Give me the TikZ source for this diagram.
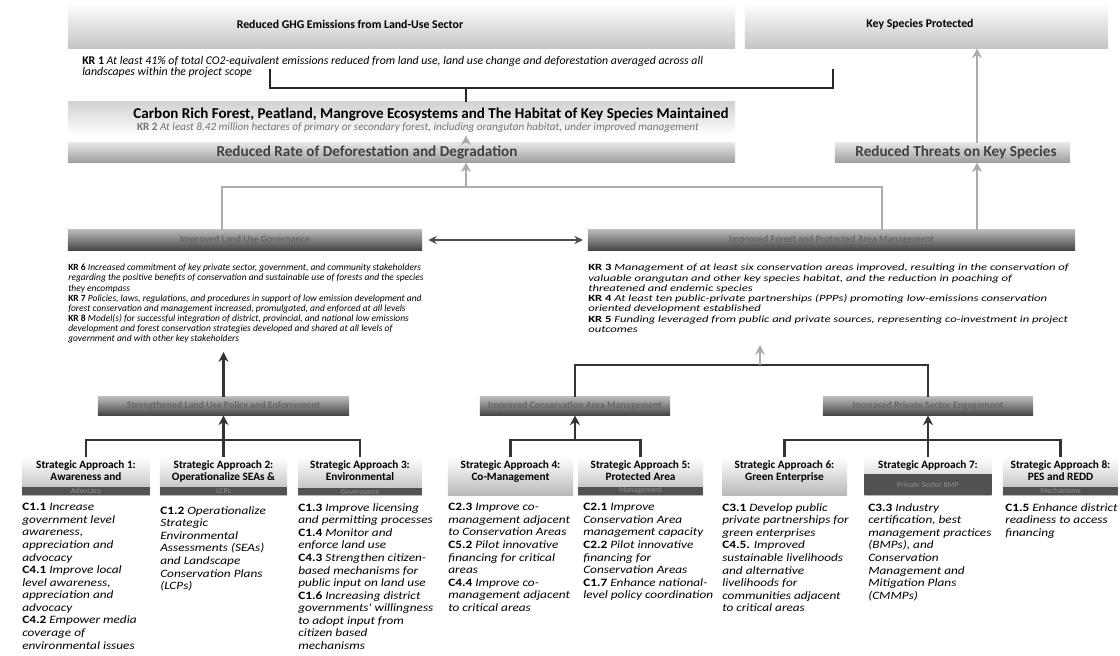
\documentclass[tikz,border=0pt]{standalone}
\usepackage{fontspec}
\setmainfont{Carlito}
\newfontfamily\castretch[FakeStretch=1.18]{Carlito}
\newfontfamily\krwide[FakeStretch=1.33]{Carlito}
\usepackage{tikz}
\usetikzlibrary{arrows.meta}

\newcommand{\krlab}[1]{{\upshape\bfseries KR #1}}
\newcommand{\clab}[1]{{\upshape\bfseries #1}}

\begin{document}
\begin{tikzpicture}[x=0.025cm, y=-0.025cm,
	topbox/.style={rectangle, inner sep=0pt, top color=white, bottom color=gray!45},
	toptitle/.style={inner sep=0pt, font=\bfseries\fontsize{8.4}{9.5}\selectfont},
	softbar/.style={rectangle, inner sep=0pt, top color=gray!20, bottom color=gray!75},
	softtitle/.style={inner sep=0pt, text=black!75, font=\bfseries\fontsize{10.8}{12}\selectfont},
	darkbar/.style={rectangle, inner sep=0pt, top color=gray!55, bottom color=black!72, text=black!60, font=\bfseries\fontsize{7}{8}\selectfont},
	sabox/.style={rectangle, inner sep=0pt, align=center, top color=white, bottom color=gray!55, minimum height=0.95cm, text depth=7.6pt, font=\bfseries\fontsize{8}{8.5}\selectfont},
	saband/.style={rectangle, inner sep=0pt, anchor=south, fill=black!68, text=black!50, font=\bfseries\fontsize{5.5}{6}\selectfont},
	krtext/.style={anchor=north west, inner sep=0pt, align=left, font=\itshape\fontsize{6.75}{7.2}\selectfont},
	catext/.style={anchor=north west, inner sep=0pt, align=left, font=\castretch\itshape\fontsize{8}{8.95}\selectfont},
	thinlink/.style={draw=black!85, line width=1.1pt},
	graylink/.style={draw=gray!65, line width=1.3pt},
	link/.style={draw=black!80, line width=1.5pt},
	grayarrow/.style={draw=gray!65, line width=1.6pt, -{Stealth[length=7pt, width=7pt]}},
	blackarrow/.style={draw=black!80, line width=1.6pt, -{Stealth[length=7pt, width=7pt]}},
	dblarrow/.style={draw=black!70, line width=1.3pt, {Stealth[length=6pt, width=6pt]}-{Stealth[length=6pt, width=6pt]}}]
	\useasboundingbox (0,0) rectangle (1120,656);

	% outcomes at the top
	\node[topbox, minimum width=16.675cm, minimum height=1.125cm] (ghg) at (401.5,25.5) {};
	\node[toptitle] (ghgt) at (350,24) {Reduced GHG Emissions from Land-Use Sector};
	\node[topbox, minimum width=9.075cm, minimum height=1.125cm] (ksp) at (926.5,25.5) {};
	\node[toptitle] (kspt) at (920,24) {Key Species Protected};
	\node[krtext, font=\itshape\fontsize{8.4}{7.9}\selectfont] (kr1) at (82,56) {\krlab{1} At least 41\% of total CO2-equivalent emissions reduced from land use, land use change and deforestation averaged across all\\landscapes within the project scope};

	\node[rectangle, inner sep=0pt, top color=gray!35, bottom color=white, minimum width=16.675cm, minimum height=0.825cm] (carbon) at (401.5,118.5) {};
	\node[inner sep=0pt, font=\bfseries\fontsize{10.7}{12}\selectfont] (carbont) at (431,114) {Carbon Rich Forest, Peatland, Mangrove Ecosystems and The Habitat of Key Species Maintained};
	\node[inner sep=0pt, text=black!55, font=\itshape\fontsize{7.9}{8.5}\selectfont] (kr2) at (418,128) {\krlab{2} At least 8.42 million hectares of primary or secondary forest, including orangutan habitat, under improved management};

	\node[softbar, minimum width=16.675cm, minimum height=0.475cm] (rate) at (401.5,152.5) {};
	\node[softtitle] (ratet) at (367,152) {Reduced Rate of Deforestation and Degradation};
	\node[softbar, minimum width=5.875cm, minimum height=0.475cm] (threat) at (952.5,152.5) {};
	\node[softtitle] (threatt) at (956,152) {Reduced Threats on Key Species};

	% intermediate results
	\node[darkbar, minimum width=8.85cm, minimum height=0.5cm] (irl) at (245,240) {Improved Land Use Governance};
	\node[darkbar, minimum width=12.175cm, minimum height=0.5cm] (irr) at (831.5,240) {Improved Forest and Protected Area Management};

	\node[krtext] (kr6) at (68,264) {\krlab{6} Increased commitment of key private sector, government, and community stakeholders\\
		regarding the positive benefits of conservation and sustainable use of forests and the species\\
		they encompass\\
		\krlab{7} Policies, laws, regulations, and procedures in support of low emission development and\\
		forest conservation and management increased, promulgated, and enforced at all levels\\
		\krlab{8} Model(s) for successful integration of district, provincial, and national low emissions\\
		development and forest conservation strategies developed and shared at all levels of\\
		government and with other key stakeholders};
	\node[krtext, font=\krwide\itshape\fontsize{6.75}{7.3}\selectfont] (kr3) at (588,264) {\krlab{3} Management of at least six conservation areas improved, resulting in the conservation of\\
		valuable orangutan and other key species habitat, and the reduction in poaching of\\
		threatened and endemic species\\
		\krlab{4} At least ten public-private partnerships (PPPs) promoting low-emissions conservation\\
		oriented development established\\
		\krlab{5} Funding leveraged from public and private sources, representing co-investment in project\\
		outcomes};

	\node[darkbar, minimum width=6.275cm, minimum height=0.45cm] (sl) at (223.5,406) {Strengthened Land Use Policy and Enforcement};
	\node[darkbar, minimum width=4.75cm, minimum height=0.45cm] (sm) at (575,406) {Improved Conservation Area Management};
	\node[darkbar, minimum width=5.25cm, minimum height=0.45cm] (sr) at (928,406) {Increased Private Sector Engagement};

	% strategic approaches
	\node[sabox, minimum width=3.2cm] (sa1) at (86,476) {Strategic Approach 1:\\Awareness and};
	\node[sabox, minimum width=3.175cm] (sa2) at (223.5,476) {Strategic Approach 2:\\Operationalize SEAs \&};
	\node[sabox, minimum width=3.1cm] (sa3) at (360,476) {Strategic Approach 3:\\Environmental};
	\node[sabox, minimum width=3.125cm] (sa4) at (510.5,476) {Strategic Approach 4:\\Co-Management};
	\node[sabox, minimum width=3.125cm] (sa5) at (640.5,476) {Strategic Approach 5:\\Protected Area};
	\node[sabox, minimum width=3.125cm] (sa6) at (784.5,476) {Strategic Approach 6:\\Green Enterprise};
	\node[sabox, minimum width=3.175cm] (sa7) at (928,476) {Strategic Approach 7:\\\mbox{}};
	\node[sabox, minimum width=2.875cm] (sa8) at (1060.5,476) {Strategic Approach 8:\\PES and REDD};

	\node[saband, minimum width=3.2cm, minimum height=0.2cm] (sa1b) at (sa1.south) {Advocacy};
	\node[saband, minimum width=3.175cm, minimum height=0.2cm] (sa2b) at (sa2.south) {LCPs};
	\node[saband, minimum width=3.1cm, minimum height=0.17cm] (sa3b) at (sa3.south) {Governance};
	\node[saband, minimum width=3.125cm, minimum height=0.2cm] (sa5b) at (sa5.south) {Management};
	\node[saband, minimum width=3.175cm, minimum height=0.52cm] (sa7b) at (sa7.south) {Private Sector BMP};
	\node[saband, minimum width=2.875cm, minimum height=0.2cm] (sa8b) at (sa8.south) {Mechanisms};

	\node[catext] (ca1) at (22,503) {\clab{C1.1} Increase\\government level\\awareness,\\appreciation and\\advocacy\\\clab{C4.1} Improve local\\level awareness,\\appreciation and\\advocacy\\\clab{C4.2} Empower media\\coverage of\\environmental issues};
	\node[catext] (ca2) at (160,506) {\clab{C1.2} Operationalize\\Strategic\\Environmental\\Assessments (SEAs)\\and Landscape\\Conservation Plans\\(LCPs)};
	\node[catext] (ca3) at (298,503) {\clab{C1.3} Improve licensing\\and permitting processes\\\clab{C1.4} Monitor and\\enforce land use\\\clab{C4.3} Strengthen citizen-\\based mechanisms for\\public input on land use\\\clab{C1.6} Increasing district\\governments' willingness\\to adopt input from\\citizen based\\mechanisms};
	\node[catext] (ca4) at (448,503) {\clab{C2.3} Improve co-\\management adjacent\\to Conservation Areas\\\clab{C5.2} Pilot innovative\\financing for critical\\areas\\\clab{C4.4} Improve co-\\management adjacent\\to critical areas};
	\node[catext] (ca5) at (583,503) {\clab{C2.1} Improve\\Conservation Area\\management capacity\\\clab{C2.2} Pilot innovative\\financing for\\Conservation Areas\\\clab{C1.7} Enhance national-\\level policy coordination};
	\node[catext] (ca6) at (722,503) {\clab{C3.1} Develop public\\private partnerships for\\green enterprises\\\clab{C4.5.} Improved\\sustainable livelihoods\\and alternative\\livelihoods for\\communities adjacent\\to critical areas};
	\node[catext] (ca7) at (868,503) {\clab{C3.3} Industry\\certification, best\\management practices\\(BMPs), and\\Conservation\\Management and\\Mitigation Plans\\(CMMPs)};
	\node[catext] (ca8) at (1005,503) {\clab{C1.5} Enhance district\\readiness to access\\financing};

	% junction points
	\coordinate (t1) at (270,88);
	\coordinate (t2) at (833,88);
	\coordinate (t3) at (466,88);
	\coordinate (m1) at (222,187);
	\coordinate (m2) at (882,187);
	\coordinate (m3) at (466,187);
	\coordinate (r1) at (977,0);
	\coordinate (k6) at (0,352);
	\coordinate (l1) at (760,365);
	\coordinate (k3) at (760,345);
	\coordinate (b1) at (0,440);
	\coordinate (b2) at (575,440);

	% connectors
	\draw[thinlink] ([yshift=0.48cm]t1) -- (t1) -- (t2) -- ([yshift=0.48cm]t2);
	\draw[thinlink] (t3) -- (t3 |- carbon.north);
	\draw[grayarrow] (rate.north -| t3) -- (t3 |- carbon.south);
	\draw[grayarrow] (threat.north -| r1) -- (ksp.south -| r1);
	\draw[grayarrow] (irr.north -| r1) -- (threat.south -| r1);
	\draw[graylink] (m1 |- irl.north) -- (m1) -- (m2) -- (m2 |- irr.north);
	\draw[grayarrow] (m3) -- (m3 |- rate.south);
	\draw[dblarrow] ([xshift=0.15cm]irl.east) -- ([xshift=-0.12cm]irr.west);

	\draw[blackarrow] (sl.north) -- (sl.north |- k6);
	\draw[link] (sm.north) |- (l1) -| (sr.north);
	\draw[grayarrow] (l1) -- (k3);

	\draw[link] (sa1.north) |- (sa2.north |- b1) -| (sa3.north);
	\draw[blackarrow] (sa2.north) -- (sl.south);
	\draw[link] (sa4.north) |- (b2) -| (sa5.north);
	\draw[blackarrow] (b2) -- (sm.south);
	\draw[link] (sa6.north) |- (sa7.north |- b1) -| (sa8.north);
	\draw[blackarrow] (sa7.north) -- (sr.south);
\end{tikzpicture}
\end{document}
